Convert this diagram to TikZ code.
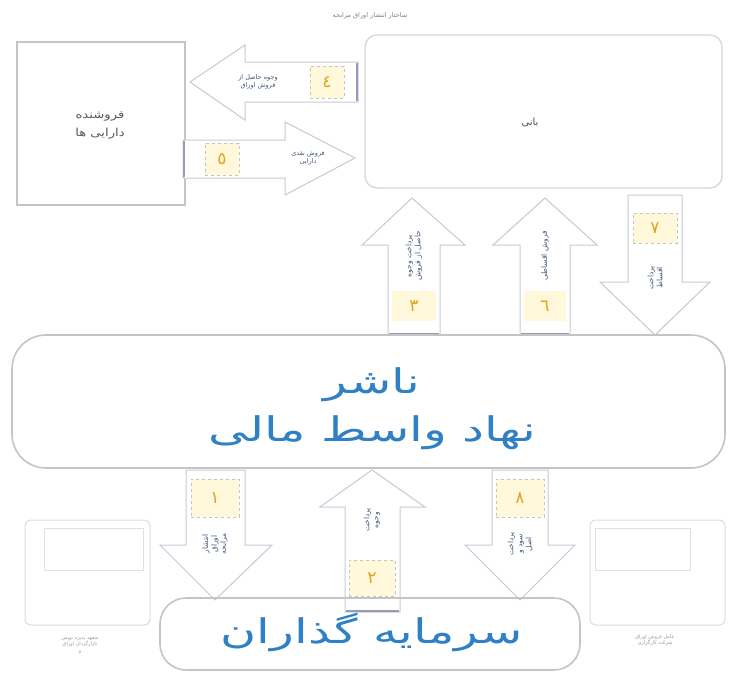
\documentclass[tikz,border=0pt]{standalone}
\usepackage{fontspec}
\newfontfamily\fa[Script=Arabic]{DejaVu Sans}
\TeXXeTstate=1
\newcommand\fr[1]{{\fa\beginR #1\endR}}
\newcommand\wide[1]{\scalebox{1.45}[1]{\fr{#1}}}
\definecolor{bx}{HTML}{C4C4C4}
\definecolor{arr}{HTML}{C8C8D6}
\definecolor{arrend}{HTML}{9A9AB8}
\definecolor{bluetxt}{HTML}{2F80C4}
\definecolor{dig}{HTML}{E3A21E}
\definecolor{numfill}{HTML}{FFF8DA}
\definecolor{smalltxt}{HTML}{45587A}
\tikzset{
  boxline/.style={draw=bx, line width=1.3pt},
  blockarrow/.style={draw=arr, line width=1pt, fill=white, line join=miter},
  numbox/.style={fill=numfill, draw=bx, dashed, line width=0.6pt, minimum width=40pt, minimum height=34pt, inner sep=0pt, text=dig, font=\fa\fontsize{17}{17}\selectfont},
  vtxt/.style={rotate=90, align=center, text=smalltxt, font=\fa\fontsize{7.5}{9}\selectfont, inner sep=1pt},
  htxt/.style={align=center, text=smalltxt, font=\fa\fontsize{6.5}{8}\selectfont, inner sep=1pt},
  bigtxt/.style={align=center, text=bluetxt, font=\fa\fontsize{34}{48}\selectfont},
}
\begin{document}
\begin{tikzpicture}[x=1pt,y=-1pt]
\useasboundingbox (0,0) rectangle (734,678);
% title
\node[text=gray, font=\fa\fontsize{6.5}{8}\selectfont] (title) at (370,16) {\fr{ساختار انتشار اوراق مرابحه}};
% left box: seller
\draw[boxline] (17,42) rectangle (185,205);
\node[align=center, text=gray!70!black, font=\fa\fontsize{11}{18}\selectfont] (seller) at (100,125) {\scalebox{1.2}[1]{\fr{فروشنده}}\\\scalebox{1.2}[1]{\fr{دارایی ها}}};
% originator box
\draw[draw=bx!70, line width=1.3pt, rounded corners=12pt] (365,35) rectangle (722,188);
\node[text=gray!60!black, font=\fa\fontsize{10}{12}\selectfont] (bani) at (530,122) {\fr{بانی}};
% arrow 4 (left)
\draw[blockarrow] (190,82) -- (245,45) -- (245,62) -- (358,62) -- (358,102) -- (245,102) -- (245,120) -- cycle;
\draw[arrend, line width=2pt] (357,63) -- (357,101);
\node[numbox, minimum width=34pt, minimum height=32pt] (n4) at (327,82) {٤};
\node[htxt] (t4) at (258,82) {\fr{وجوه حاصل از}\\\fr{فروش اوراق}};
% arrow 5 (right)
\draw[blockarrow] (355,158) -- (285,122) -- (285,140) -- (183,140) -- (183,178) -- (285,178) -- (285,195) -- cycle;
\draw[arrend, line width=2pt] (184,141) -- (184,177);
\node[numbox, minimum width=34pt, minimum height=32pt] (n5) at (222,159) {٥};
\node[htxt] (t5) at (308,158) {\fr{فروش نقدی}\\\fr{دارایی}};
% arrow 3 (up)
\draw[blockarrow] (412,198) -- (465,245) -- (440,245) -- (440,335) -- (388,335) -- (388,245) -- (362,245) -- cycle;
\draw[arrend, line width=2pt] (389,334) -- (439,334);
\node[numbox, minimum width=44pt, minimum height=30pt, draw=none] (n3) at (414,306) {٣};
\node[vtxt] (t3) at (414,256) {\fr{پرداخت وجوه}\\\fr{حاصل از فروش}};
% arrow 6 (up)
\draw[blockarrow] (545,198) -- (597,245) -- (570,245) -- (570,335) -- (520,335) -- (520,245) -- (493,245) -- cycle;
\draw[arrend, line width=2pt] (521,334) -- (569,334);
\node[numbox, minimum width=42pt, minimum height=30pt, draw=none] (n6) at (545,306) {٦};
\node[vtxt] (t6) at (545,256) {\fr{فروش اقساطی}};
% arrow 7 (down)
\draw[blockarrow] (655,335) -- (710,282) -- (682,282) -- (682,195) -- (628,195) -- (628,282) -- (600,282) -- cycle;
\node[numbox, minimum width=44pt, minimum height=30pt] (n7) at (655,228) {٧};
\node[vtxt] (t7) at (655,278) {\fr{پرداخت}\\\fr{اقساط}};
% issuer box
\draw[boxline, line width=1.6pt, rounded corners=34pt] (12,335) rectangle (725,468);
\node[bigtxt] (issuer) at (372,409) {\wide{ناشر}\\\wide{نهاد واسط مالی}};
% arrow 1 (down)
\draw[blockarrow] (215,600) -- (272,545) -- (245,545) -- (245,470) -- (186,470) -- (186,545) -- (160,545) -- cycle;
\node[numbox, minimum width=48pt, minimum height=38pt] (n1) at (215,498) {١};
\node[vtxt] (t1) at (215,544) {\fr{انتشار}\\\fr{اوراق}\\\fr{مرابحه}};
% arrow 2 (up)
\draw[blockarrow] (372,470) -- (425,507) -- (400,507) -- (400,612) -- (345,612) -- (345,507) -- (320,507) -- cycle;
\draw[arrend, line width=2pt] (346,611) -- (399,611);
\node[numbox, minimum width=46pt, minimum height=36pt] (n2) at (372,578) {٢};
\node[vtxt] (t2) at (372,520) {\fr{پرداخت}\\\fr{وجوه}};
% arrow 8 (down)
\draw[blockarrow] (520,600) -- (575,545) -- (548,545) -- (548,470) -- (492,470) -- (492,545) -- (465,545) -- cycle;
\node[numbox, minimum width=48pt, minimum height=38pt] (n8) at (520,498) {٨};
\node[vtxt] (t8) at (520,544) {\fr{پرداخت}\\\fr{سود و}\\\fr{اصل}};
% faint side boxes
\draw[draw=bx!60, line width=1pt, rounded corners=6pt] (25,520) rectangle (150,625);
\draw[draw=bx!50, line width=0.8pt] (44,528) rectangle (143,570);
\node[align=center, text=gray!80, font=\fa\fontsize{5}{6.5}\selectfont] (leftcap) at (80,645) {\fr{متعهد پذیره نویس}\\\fr{بازارگردان اوراق}\\\fr{و}};
\draw[draw=bx!60, line width=1pt, rounded corners=6pt] (590,520) rectangle (725,625);
\draw[draw=bx!50, line width=0.8pt] (595,528) rectangle (690,570);
\node[align=center, text=gray!80, font=\fa\fontsize{5}{6.5}\selectfont] (rightcap) at (655,640) {\fr{عامل فروش اوراق}\\\fr{شرکت کارگزاری}};
% investors
\draw[boxline, line width=1.6pt, rounded corners=26pt] (160,598) rectangle (580,670);
\node[bigtxt, font=\fa\fontsize{34}{40}\selectfont] (investors) at (372,632) {\wide{سرمایه گذاران}};
\end{tikzpicture}
\end{document}
